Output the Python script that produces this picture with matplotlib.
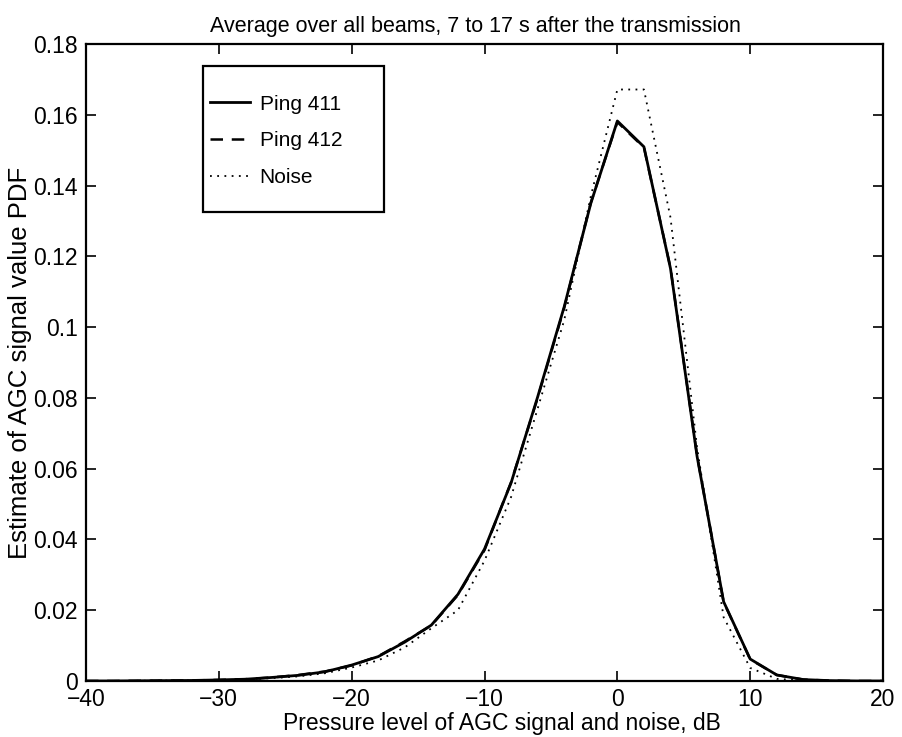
import matplotlib
matplotlib.use("Agg")
import matplotlib.pyplot as plt
from matplotlib.patches import Rectangle
from matplotlib.ticker import FuncFormatter, MultipleLocator

plt.rcParams['font.family'] = ['Liberation Sans', 'DejaVu Sans']

# Signal level grid (dB) and PDF estimates
level_db = [-40, -38, -36, -34, -32, -30, -28, -26, -24, -22, -20, -18, -16,
            -14, -12, -10, -8, -6, -4, -2, 0, 2, 4, 6, 8, 10, 12, 14, 16,
            18, 20]
ping_411 = [0.0, 0.0, 0.00005, 0.0001, 0.00015, 0.0003, 0.0005, 0.001,
            0.0016, 0.0026, 0.0045, 0.0069, 0.011, 0.0158, 0.0245, 0.0373,
            0.056, 0.0803, 0.1058, 0.1350, 0.1583, 0.1510, 0.1166, 0.0635,
            0.0224, 0.0062, 0.0017, 0.0004, 0.0001, 0.0, 0.0]
ping_412 = [0.0, 0.0, 0.00005, 0.0001, 0.00015, 0.0003, 0.0005, 0.001,
            0.0017, 0.0027, 0.0044, 0.0070, 0.0112, 0.0157, 0.0243, 0.0370,
            0.0562, 0.0800, 0.1055, 0.1352, 0.1580, 0.1508, 0.1168, 0.0637,
            0.0223, 0.0061, 0.0017, 0.0004, 0.0001, 0.0, 0.0]
noise = [0.0, 0.0, 0.00005, 0.0001, 0.00012, 0.00025, 0.0004, 0.0008,
         0.0013, 0.0022, 0.0038, 0.0058, 0.0095, 0.0149, 0.0200, 0.0340,
         0.0520, 0.0770, 0.1020, 0.1370, 0.1672, 0.1672, 0.1310, 0.0660,
         0.0180, 0.0037, 0.0006, 0.0001, 0.0, 0.0, 0.0]

fig = plt.figure(figsize=(9.02, 7.37), dpi=100)
ax = fig.add_axes([0.0953, 0.076, 0.8837, 0.864])

ax.plot(level_db, ping_411, color='black', lw=2.0, ls='-', label='Ping 411')
ax.plot(level_db, ping_412, color='black', lw=1.8, ls=(0, (5, 3.5)),
        label='Ping 412')
ax.plot(level_db, noise, color='black', lw=1.3, ls=(0, (1, 3)),
        label='Noise')

ax.set_xlim(-40, 20)
ax.set_ylim(0, 0.18)
ax.xaxis.set_major_locator(MultipleLocator(10))
ax.yaxis.set_major_locator(MultipleLocator(0.02))
ax.yaxis.set_major_formatter(FuncFormatter(lambda v, p: '%g' % round(v, 4)))
ax.xaxis.set_major_formatter(FuncFormatter(
    lambda v, p: ('\u2212%g' % abs(v)) if v < 0 else '%g' % v))

ax.tick_params(direction='in', top=True, right=True, length=7, width=1.2,
               labelsize=16.5)
ax.tick_params(axis='x', pad=5)
ax.tick_params(axis='y', pad=6)
for sp in ax.spines.values():
    sp.set_linewidth(1.6)

ax.set_title('Average over all beams, 7 to 17 s after the transmission',
             fontsize=15.5, pad=9, x=0.489)
ax.set_xlabel('Pressure level of AGC signal and noise, dB', fontsize=16.5)
ax.xaxis.set_label_coords(0.522, -0.049, transform=ax.transAxes)
ax.xaxis.label.set_va('top')
ax.set_ylabel('Estimate of AGC signal value PDF', fontsize=18.5, labelpad=1)

# Legend frame drawn as its own box, entries placed inside it
ax.add_patch(Rectangle((0.1468, 0.7363), 0.2271, 0.2292,
                       transform=ax.transAxes, fill=True, facecolor='white',
                       edgecolor='black', lw=1.6, zorder=5))
leg = ax.legend(loc='upper left', bbox_to_anchor=(0.155, 0.921),
                fontsize=15, frameon=False, handlelength=1.95,
                handletextpad=0.45, borderpad=0, labelspacing=0.86,
                borderaxespad=0)
leg.set_zorder(6)

fig.savefig('out.png', dpi=100, facecolor='white')
